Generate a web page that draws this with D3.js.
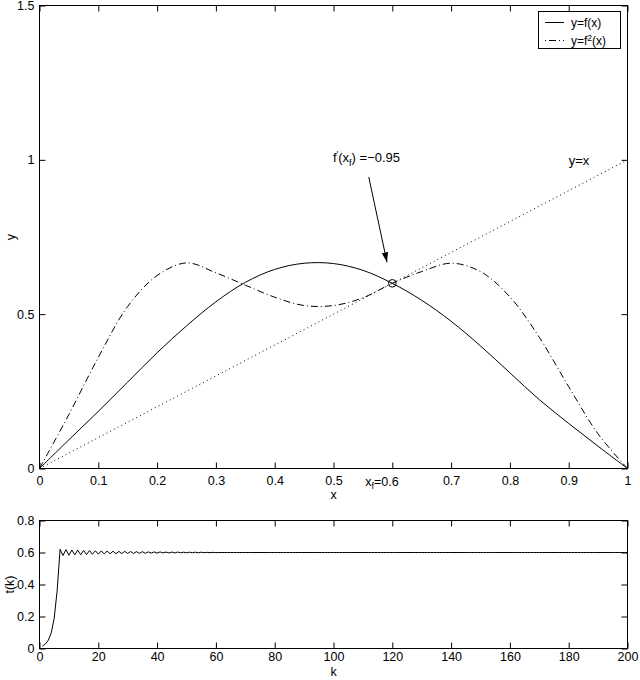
<!DOCTYPE html>
<html><head><meta charset="utf-8">
<script src="https://cdn.jsdelivr.net/npm/d3@7"></script>
<style>body{margin:0;background:#fff} text{font-family:"Liberation Sans",Arial,Helvetica,sans-serif}</style>
</head><body><svg id="c" width="640" height="680"></svg>
<script>
// ---- data ----
const xValues = [0,0.05,0.1,0.15,0.2,0.25,0.3,0.35,0.4,0.45,0.5,0.55,0.6,0.65,0.7,0.75,0.8,0.85,0.9,0.95,1];
const fValues = [0,0.093,0.185,0.28,0.375,0.462,0.54,0.603,0.645,0.665,0.664,0.642,0.600,0.545,0.477,0.397,0.31,0.223,0.146,0.072,0];
const f2Values = [0,0.175,0.36,0.525,0.625,0.666,0.634,0.594,0.555,0.528,0.528,0.553,0.600,0.638,0.665,0.638,0.556,0.425,0.265,0.112,0];
const diagX = [0,1];
const diagY = [0,1];
const fixedPoint = {x:0.6, y:0.6};
const tValues = [
0.015,0.028,0.052,0.098,0.19,0.36,0.62,0.581,0.618,0.583,0.616,0.585,0.615,0.586,0.613,0.587,0.612,0.589,0.611,0.590,
0.610,0.591,0.609,0.592,0.608,0.592,0.607,0.593,0.607,0.594,0.606,0.594,0.605,0.595,0.605,0.595,0.604,0.596,0.604,0.596,
0.604,0.597,0.603,0.597,0.603,0.597,0.603,0.598,0.602,0.598,0.602,0.598,0.602,0.598,0.602,0.599,0.601,0.599,0.601,0.599,
0.6,0.6,0.6,0.6,0.6,0.6,0.6,0.6,0.6,0.6,0.6,0.6,0.6,0.6,0.6,0.6,0.6,0.6,0.6,0.6,
0.6,0.6,0.6,0.6,0.6,0.6,0.6,0.6,0.6,0.6,0.6,0.6,0.6,0.6,0.6,0.6,0.6,0.6,0.6,0.6,
0.6,0.6,0.6,0.6,0.6,0.6,0.6,0.6,0.6,0.6,0.6,0.6,0.6,0.6,0.6,0.6,0.6,0.6,0.6,0.6,
0.6,0.6,0.6,0.6,0.6,0.6,0.6,0.6,0.6,0.6,0.6,0.6,0.6,0.6,0.6,0.6,0.6,0.6,0.6,0.6,
0.6,0.6,0.6,0.6,0.6,0.6,0.6,0.6,0.6,0.6,0.6,0.6,0.6,0.6,0.6,0.6,0.6,0.6,0.6,0.6,
0.6,0.6,0.6,0.6,0.6,0.6,0.6,0.6,0.6,0.6,0.6,0.6,0.6,0.6,0.6,0.6,0.6,0.6,0.6,0.6,
0.6,0.6,0.6,0.6,0.6,0.6,0.6,0.6,0.6,0.6,0.6,0.6,0.6,0.6,0.6,0.6,0.6,0.6,0.6,0.6];
const xTicks = [0,0.1,0.2,0.3,0.4,0.5,0.6,0.7,0.8,0.9,1];
const yTicks = [0,0.5,1,1.5];
const kTicks = [0,20,40,60,80,100,120,140,160,180,200];
const tTicks = [0,0.2,0.4,0.6,0.8];
const annotation = {text:[0.499,0.993], from:[0.560,0.944], to:[0.591,0.668]};
const diagLabel = [0.90,0.983];

// ---- layout ----
const FONT = '"Liberation Sans",Arial,Helvetica,sans-serif';
const FS = 12.5;
const L=39.5, R=627.5, T1=5.5, B1=468.5, T2=520.5, B2=648.5;
const svg = d3.select("#c");
svg.append("rect").attr("width",640).attr("height",680).attr("fill","#fff");

const x = d3.scaleLinear().domain([0,1]).range([L,R]);
const y = d3.scaleLinear().domain([0,1.5]).range([B1,T1]);
const xk = d3.scaleLinear().domain([0,200]).range([L,R]);
const yt = d3.scaleLinear().domain([0,0.8]).range([B2,T2]);

function fmt(d){ return String(+d.toFixed(2)); }
function axes(g, sx, sy, xt, yt2, top, bottom, skipX, padX){
  g.append("g").attr("transform",`translate(0,${bottom})`)
    .call(d3.axisBottom(sx).tickValues(xt).tickSize(-6).tickSizeOuter(0).tickPadding(padX)
      .tickFormat(d => (skipX!==undefined && Math.abs(d-skipX)<1e-9) ? "" : fmt(d)));
  g.append("g").attr("transform",`translate(${L},0)`)
    .call(d3.axisLeft(sy).tickValues(yt2).tickSize(-6).tickSizeOuter(0).tickPadding(5).tickFormat(fmt));
  g.append("g").attr("transform",`translate(0,${top})`)
    .call(d3.axisTop(sx).tickValues(xt).tickSize(-6).tickSizeOuter(0).tickFormat(""));
  g.append("g").attr("transform",`translate(${R},0)`)
    .call(d3.axisRight(sy).tickValues(yt2).tickSize(-6).tickSizeOuter(0).tickFormat(""));
  g.selectAll(".domain").remove();
  g.selectAll(".tick line").attr("stroke","#000").attr("stroke-width",1);
  g.selectAll("g").attr("font-family",FONT).attr("font-size",FS);
  g.selectAll(".tick text").attr("fill","#000");
  g.append("rect").attr("x",L).attr("y",top).attr("width",R-L).attr("height",bottom-top)
    .attr("fill","none").attr("stroke","#000").attr("stroke-width",1);
}

// ---- top plot ----
const g1 = svg.append("g");
const pts = (ys) => xValues.map((v,i)=>[v,ys[i]]);
const curve = d3.line().x(d=>x(d[0])).y(d=>y(d[1])).curve(d3.curveCatmullRom.alpha(0.5));
g1.append("path").datum(diagX.map((v,i)=>[v,diagY[i]])).attr("d",d3.line().x(d=>x(d[0])).y(d=>y(d[1])))
  .attr("fill","none").attr("stroke","#000").attr("stroke-width",1).attr("stroke-dasharray","1,3.2");
g1.append("path").datum(pts(fValues)).attr("d",curve)
  .attr("fill","none").attr("stroke","#000").attr("stroke-width",1);
g1.append("path").datum(pts(f2Values)).attr("d",curve)
  .attr("fill","none").attr("stroke","#000").attr("stroke-width",1).attr("stroke-dasharray","7,3,1,3");
g1.append("circle").attr("cx",x(fixedPoint.x)).attr("cy",y(fixedPoint.y)).attr("r",3.8)
  .attr("fill","none").attr("stroke","#000").attr("stroke-width",1);

axes(g1, x, y, xTicks, yTicks, T1, B1, 0.6, 8);

// x_f = 0.6 tick label
const xf = g1.append("text").attr("x",x(0.6)-27).attr("y",B1+17).attr("font-size",FS).attr("font-family",FONT);
xf.append("tspan").text("x");
xf.append("tspan").attr("dy",3.5).attr("font-size",9).text("f");
xf.append("tspan").attr("dy",-3.5).text("=0.6");

g1.append("text").attr("x",(L+R)/2).attr("y",B1+30).attr("text-anchor","middle").attr("font-size",FS).attr("font-family",FONT).text("x");
g1.append("text").attr("transform",`translate(15,${(T1+B1)/2}) rotate(-90)`).attr("text-anchor","middle").attr("font-size",FS).attr("font-family",FONT).text("y");

// annotation
const at = g1.append("text").attr("x",x(annotation.text[0])).attr("y",y(annotation.text[1])).attr("font-size",13).attr("font-family",FONT);
at.append("tspan").text("f");
at.append("tspan").attr("dy",-5).attr("font-size",9).text("'");
at.append("tspan").attr("dy",5).text("(x");
at.append("tspan").attr("dy",4).attr("font-size",9).text("f");
at.append("tspan").attr("dy",-4).text(") =\u22120.95");
svg.append("defs").append("marker").attr("id","ah").attr("viewBox","0 0 10 10").attr("refX",10).attr("refY",5)
  .attr("markerWidth",10).attr("markerHeight",10).attr("markerUnits","userSpaceOnUse").attr("orient","auto")
  .append("path").attr("d","M0,1.8L10,5L0,8.2Z").attr("fill","#000");
g1.append("line").attr("x1",x(annotation.from[0])).attr("y1",y(annotation.from[1]))
  .attr("x2",x(annotation.to[0])).attr("y2",y(annotation.to[1])).attr("stroke","#000").attr("stroke-width",1)
  .attr("marker-end","url(#ah)");
g1.append("text").attr("x",x(diagLabel[0])).attr("y",y(diagLabel[1])).attr("font-size",13).attr("font-family",FONT).text("y=x");

// legend
const lg = g1.append("g");
lg.append("rect").attr("x",538.5).attr("y",11.5).attr("width",82).attr("height",37).attr("fill","#fff").attr("stroke","#000");
lg.append("line").attr("x1",545).attr("x2",564).attr("y1",22.5).attr("y2",22.5).attr("stroke","#000");
lg.append("line").attr("x1",545).attr("x2",564).attr("y1",40.5).attr("y2",40.5).attr("stroke","#000").attr("stroke-dasharray","1,3,7,3");
lg.append("text").attr("x",571).attr("y",27).attr("font-size",12).attr("font-family",FONT).text("y=f(x)");
const l2 = lg.append("text").attr("x",571).attr("y",45).attr("font-size",12).attr("font-family",FONT);
l2.append("tspan").text("y=f");
l2.append("tspan").attr("dy",-4.5).attr("font-size",8.5).text("2");
l2.append("tspan").attr("dy",4.5).text("(x)");

// ---- bottom plot ----
const g2 = svg.append("g");
g2.append("path").datum(tValues).attr("d",d3.line().x((d,i)=>xk(i+1)).y(d=>yt(d)))
  .attr("fill","none").attr("stroke","#000").attr("stroke-width",1);
axes(g2, xk, yt, kTicks, tTicks, T2, B2, undefined, 4);
g2.append("text").attr("x",(L+R)/2).attr("y",676).attr("text-anchor","middle").attr("font-size",FS).attr("font-family",FONT).text("k");
g2.append("text").attr("transform",`translate(14,${(T2+B2)/2}) rotate(-90)`).attr("text-anchor","middle").attr("font-size",FS).attr("font-family",FONT).text("t(k)");
</script></body></html>
